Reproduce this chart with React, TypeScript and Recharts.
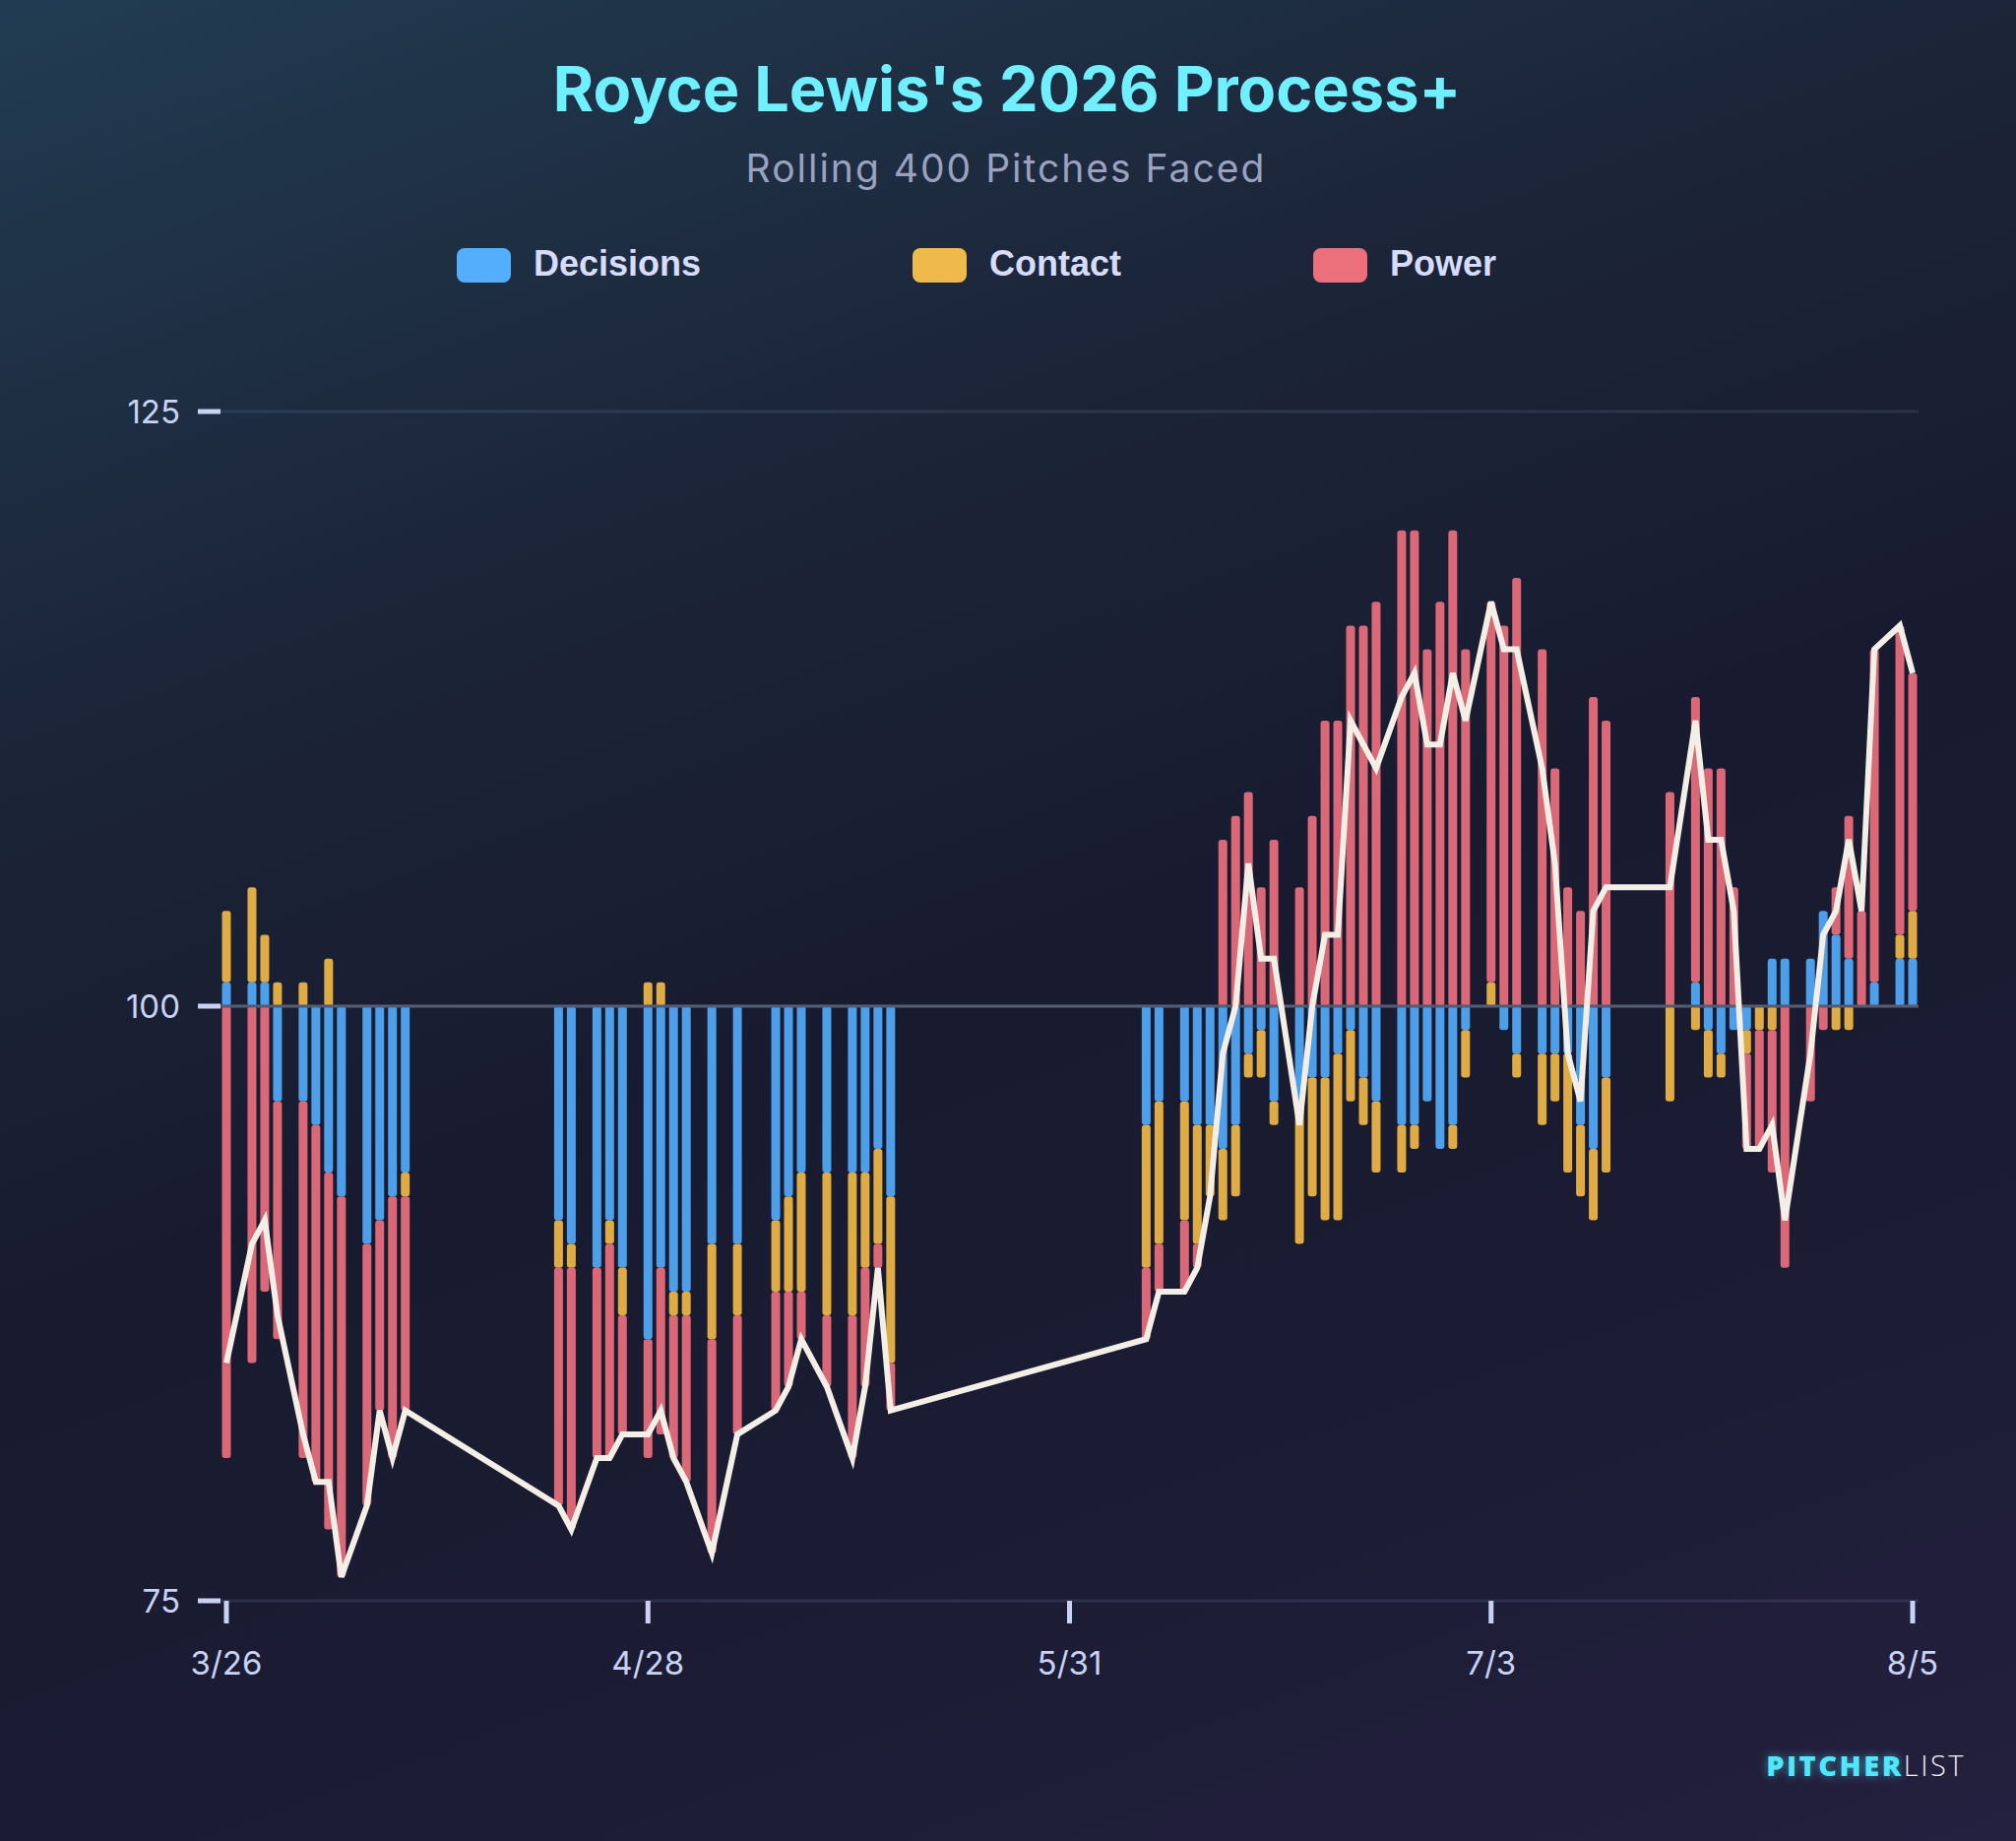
import React from "react";
import {
  ComposedChart,
  Bar,
  Line,
  XAxis,
  YAxis,
  CartesianGrid,
  ReferenceLine,
} from "recharts";

// days since 3/26 on which a game was played
const gameDays = [
  0, 2, 3, 4, 6, 7, 8, 9, 11, 12, 13, 14,
  26, 27, 29, 30, 31, 33, 34, 35, 36, 38, 40, 43, 44, 45, 47, 49, 50, 51, 52,
  72, 73, 75, 76, 77, 78, 79, 80, 81, 82, 84, 85, 86, 87, 88, 89, 90, 92, 93, 94, 95, 96, 97,
  99, 100, 101, 103, 104, 105, 106, 107, 108,
  113, 115, 116, 117, 118, 119, 120, 121, 122, 124, 125, 126, 127, 128, 129, 131, 132,
];

// component contributions, relative to 100
const decisions = [
  1, 1, 1, -4, -4, -5, -7, -8, -10, -9, -8, -7,
  -9, -10, -11, -9, -11, -14, -11, -12, -12, -10, -10, -9, -8, -7, -7, -7, -7, -6, -8,
  -5, -4, -4, -5, -5, -6, -5, -2, -1, -4, -4, -3, -3, -2, -1, -3, -4, -5, -5, -4, -6, -5, -1,
  0, -1, -2, -2, -2, -2, -5, -6, -3,
  0, 1, -1, -2, -1, -1, 0, 2, 2, 2, 4, 3, 2, 0, 1, 2, 2,
];

const contact = [
  3, 4, 2, 1, 1, 0, 2, 0, 0, 0, 0, -1,
  -2, -1, 0, -1, -2, 1, 1, -1, -1, -4, -3, -3, -4, -5, -6, -6, -4, -4, -7,
  -6, -6, -5, -5, -3, -3, -3, -1, -2, -1, -6, -5, -6, -7, -3, -2, -3, -2, -1, 0, 0, -1, -2,
  1, 0, -1, -3, -2, -5, -3, -3, -4,
  -4, -1, -2, -1, 0, -1, -1, -1, 0, 0, 0, -1, -1, 0, 0, 1, 2,
];

const power = [
  -19, -15, -12, -10, -15, -15, -15, -16, -11, -8, -11, -9,
  -10, -11, -8, -9, -5, -5, -7, -6, -7, -9, -5, -5, -4, -2, -3, -6, -5, -1, -2,
  -3, -2, -3, -1, 0, 7, 8, 9, 5, 7, 5, 8, 12, 12, 16, 16, 17, 20, 20, 15, 17, 20, 15,
  16, 16, 18, 15, 10, 5, 4, 13, 12,
  9, 12, 10, 10, 5, -4, -5, -6, -11, -4, -1, 2, 6, 4, 14, 13, 10,
];

// rolling Process+ score
const processPlus = [
  85, 90, 91, 87, 82, 80, 80, 76, 79, 83, 81, 83,
  79, 78, 81, 81, 82, 82, 83, 81, 80, 77, 82, 83, 84, 86, 84, 81, 84, 89, 83,
  86, 88, 88, 89, 92, 98, 100, 106, 102, 102, 95, 100, 103, 103, 112, 111, 110, 113, 114, 111, 111, 114, 112,
  117, 115, 115, 110, 106, 98, 96, 104, 105,
  105, 112, 107, 107, 104, 94, 94, 95, 91, 98, 103, 104, 107, 104, 115, 116, 114,
];

const dateTicks = [0, 33, 66, 99, 132];
const dateLabels = ["3/26", "4/28", "5/31", "7/3", "8/5"];
const scoreTicks = [75, 100, 125];

const series = [
  { key: "decisions", name: "Decisions", fill: "#4e9fe9", swatch: "#55aefb" },
  { key: "contact", name: "Contact", fill: "#dfab45", swatch: "#f0b94b" },
  { key: "power", name: "Power", fill: "#db6877", swatch: "#ec6f7c" },
];

const data = gameDays.map((day, i) => ({
  day,
  decisions: decisions[i],
  contact: contact[i],
  power: power[i],
  process: processPlus[i],
}));

const W = 2048;
const H = 1870;
const tickColor = "#c8d2f3";
const font = "Inter, 'Noto Sans', sans-serif";

const legendX = [464, 927, 1334];

function Watermark({ blur }: { blur?: boolean }) {
  return (
    <text
      x={1997}
      y={1804}
      textAnchor="end"
      fontSize={29}
      fontFamily="'Open Sans', sans-serif"
      letterSpacing={2.5}
      filter={blur ? "url(#soft)" : undefined}
      opacity={blur ? 0.55 : 1}
    >
      <tspan fill="#52e6fa" fontWeight={800}>
        PITCHER
      </tspan>
      <tspan fill={blur ? "transparent" : "#eef0f8"} fontWeight={300}>
        LIST
      </tspan>
    </text>
  );
}

export default function App() {
  return (
    <div
      style={{
        position: "absolute",
        top: 0,
        left: 0,
        width: W,
        height: H,
        overflow: "hidden",
        background:
          "linear-gradient(160deg, #213c52 0%, #1c2539 28%, #181b2f 52%, #1c1c35 78%, #24203f 100%)",
      }}
    >
      <ComposedChart
        width={W}
        height={H}
        data={data}
        stackOffset="sign"
        margin={{ top: 418, right: 99, bottom: 0, left: 0 }}
      >
        <CartesianGrid
          vertical={false}
          yAxisId="score"
          stroke="rgba(150,170,220,0.14)"
          strokeWidth={3}
        />
        <XAxis
          dataKey="day"
          type="number"
          domain={[0, 132]}
          ticks={dateTicks}
          tickFormatter={(v: number) => dateLabels[dateTicks.indexOf(v)]}
          padding={{ left: 6, right: 6 }}
          height={244}
          axisLine={false}
          tickSize={23}
          tickMargin={29}
          tickLine={{ stroke: tickColor, strokeWidth: 5 }}
          tick={{ fill: tickColor, fontSize: 33, fontFamily: font }}
          interval={0}
        />
        <YAxis
          yAxisId="score"
          type="number"
          domain={[75, 125]}
          ticks={scoreTicks}
          width={224}
          axisLine={false}
          tickSize={23}
          tickMargin={18}
          tickLine={{ stroke: tickColor, strokeWidth: 5 }}
          tick={{ fill: tickColor, fontSize: 33, fontFamily: font }}
          interval={0}
        />
        <YAxis
          yAxisId="dev"
          type="number"
          domain={[-25, 25]}
          orientation="right"
          width={0}
          hide
        />
        <ReferenceLine yAxisId="score" y={100} stroke="#555c71" strokeWidth={3} />
        {series.map((s) => (
          <Bar
            key={s.key}
            yAxisId="dev"
            dataKey={s.key}
            stackId="a"
            fill={s.fill}
            barSize={9}
            radius={3}
            isAnimationActive={false}
          />
        ))}
        <Line
          yAxisId="score"
          dataKey="process"
          type="linear"
          stroke="#f3efe6"
          strokeWidth={6}
          dot={false}
          activeDot={false}
          isAnimationActive={false}
        />
      </ComposedChart>

      <svg
        width={W}
        height={H}
        style={{ position: "absolute", top: 0, left: 0, pointerEvents: "none" }}
      >
        <defs>
          <filter id="soft" x="-20%" y="-60%" width="140%" height="220%">
            <feGaussianBlur stdDeviation="4" />
          </filter>
        </defs>
        <text
          x={1023}
          y={113}
          textAnchor="middle"
          fill="#70f0ff"
          fontSize={63}
          fontWeight={700}
          fontFamily={font}
        >
          Royce Lewis's 2026 Process+
        </text>
        <text
          x={1022}
          y={185}
          textAnchor="middle"
          fill="#9aa2bf"
          fontSize={39}
          letterSpacing={2}
          fontFamily={font}
        >
          Rolling 400 Pitches Faced
        </text>
        {series.map((s, i) => (
          <g key={s.key}>
            <rect x={legendX[i]} y={252} width={55} height={35} rx={8} fill={s.swatch} />
            <text
              x={legendX[i] + 78}
              y={280}
              fill="#d6dcfa"
              fontSize={36}
              fontWeight={700}
              fontFamily="'Liberation Sans', Arial, sans-serif"
            >
              {s.name}
            </text>
          </g>
        ))}
        <Watermark blur />
        <Watermark />
      </svg>
    </div>
  );
}
